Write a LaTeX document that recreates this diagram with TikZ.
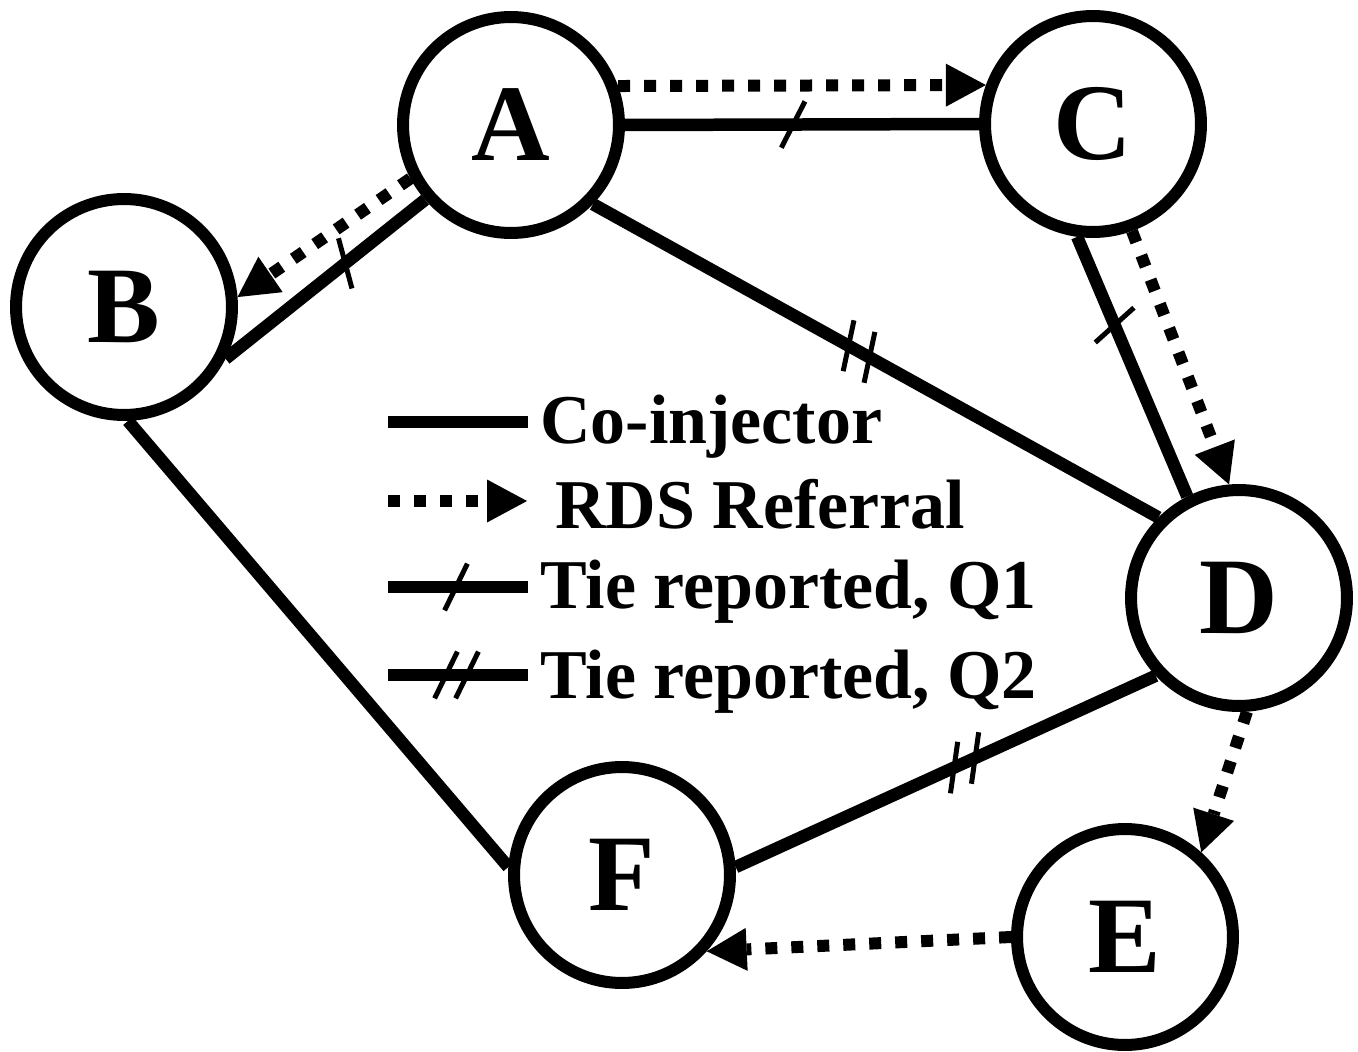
\documentclass[tikz,border=0pt]{standalone}
\usepackage{fontspec}
\setmainfont{Liberation Serif}
\usetikzlibrary{arrows.meta,calc}
\begin{document}
\begin{tikzpicture}[x=0.02cm,y=-0.02cm,
  vert/.style={circle,draw,line width=0.24cm,minimum size=4.32cm,inner sep=0pt,
    font=\fontsize{62}{70}\selectfont\bfseries},
  coinj/.style={line width=0.25cm},
  referral/.style={line width=0.24cm,dash pattern=on 0.24cm off 0.28cm,
    -{Triangle[length=0.8cm,width=0.86cm,line width=0pt]}},
  tickmark/.style={line width=0.1cm},
  legtext/.style={anchor=base west,inner sep=0pt,
    font=\fontsize{39.8}{48}\selectfont\bfseries}]
\useasboundingbox (0,0) rectangle (1358,1051);

% vertices
\node[vert] (A) at (511,125) {A};
\node[vert] (B) at (124,307) {B};
\node[vert] (C) at (1093,124) {C};
\node[vert] (D) at (1239,598) {D};
\node[vert] (F) at (622,875) {F};
\node[vert] (E) at (1125,937) {E};

% co-injector ties
\draw[coinj] (A.east) -- coordinate[pos=0.475] (tAC) (C.west);
\draw[coinj] (A.221) -- coordinate[pos=0.4] (tAB) (B.333);
\draw[coinj] (A.316) -- coordinate[pos=0.452] (tAD1) coordinate[pos=0.489] (tAD2) (D.135);
\draw[coinj] (C.262) -- coordinate[pos=0.34] (tCD) (D.117);
\draw[coinj] (B.272) -- (F.176);
\draw[coinj] (D.223) -- coordinate[pos=0.43] (tDF1) coordinate[pos=0.48] (tDF2) (F.4);

% referrals
\draw[referral] (A.20) -- (C.160);
\draw[referral] (A.208) -- (B.5);
\draw[referral] (C.290) -- (D.95);
\draw[referral] (D.274) -- (E.48);
\draw[referral] (E.180) -- (F.318);

% legend
\coordinate (l1a) at (388,422); \coordinate (l1b) at (528,422);
\coordinate (l2a) at (388,501); \coordinate (l2b) at (527,501);
\coordinate (l3a) at (388,587); \coordinate (l3b) at (528,587);
\coordinate (l4a) at (388,675); \coordinate (l4b) at (528,675);
\coordinate (lq1) at (456,587);
\coordinate (lq2a) at (446,675);
\coordinate (lq2b) at (467,675);
\draw[coinj] (l1a) -- (l1b);
\draw[referral] (l2a) -- (l2b);
\draw[coinj] (l3a) -- (l3b);
\draw[coinj] (l4a) -- (l4b);

\node[legtext] (t1) at (540,443) {Co-injector};
\node[legtext] (t2) at (555,528) {RDS Referral};
\node[legtext] (t3) at (540,608) {Tie reported, Q1};
\node[legtext] (t4) at (540,698) {Tie reported, Q2};

% tick marks
\foreach \p/\a in {tAC/63, tAB/105, tAD1/78, tAD2/78, tCD/42, tDF1/82, tDF2/82,
                   lq1/64, lq2a/64, lq2b/64}
  \draw[tickmark] ($(\p)+(\a:0.52cm)$) -- ($(\p)-(\a:0.52cm)$);
\end{tikzpicture}
\end{document}
